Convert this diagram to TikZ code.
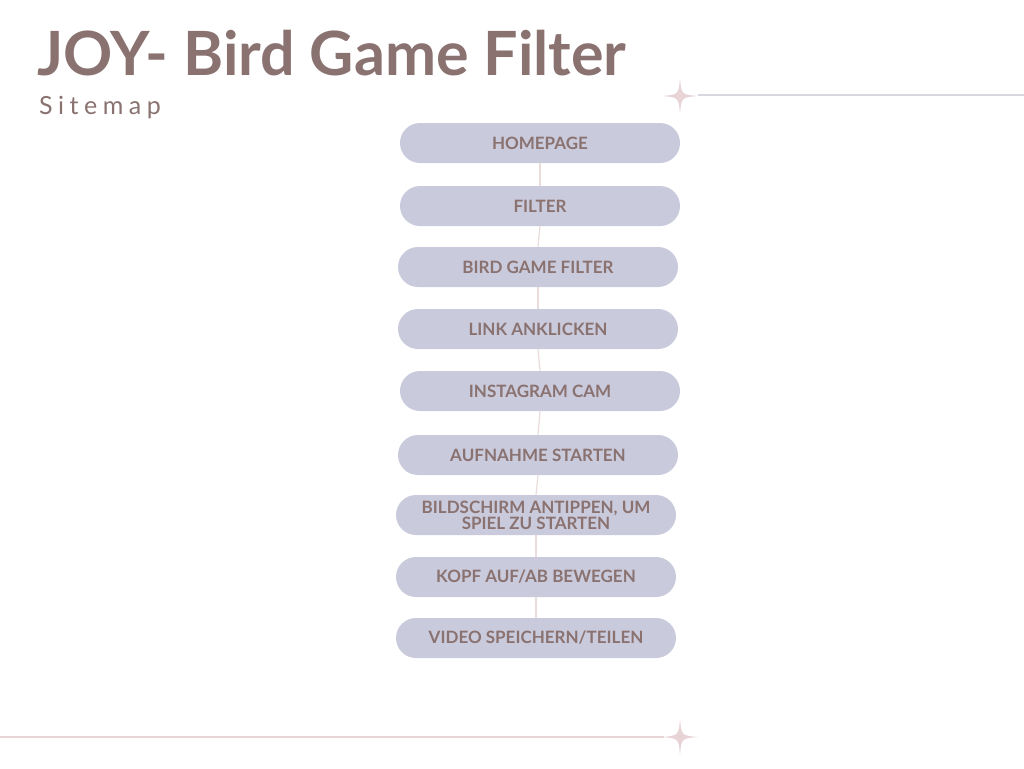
\documentclass[tikz,border=0pt]{standalone}
\usepackage{fontspec}
\setmainfont{Lato}
\newfontfamily\sitefont[LetterSpace=22]{Lato}
\definecolor{txtc}{HTML}{8A7270}
\definecolor{boxc}{HTML}{C9CADC}
\definecolor{linkc}{HTML}{EBDCDC}
\definecolor{starc}{HTML}{E8D4D6}
\definecolor{topline}{HTML}{DAD6E0}
\tikzset{
  stepbox/.style={draw=none, fill=boxc, rounded corners=20pt, minimum width=280pt, minimum height=40pt,
    inner sep=0pt, align=center, text=txtc, font=\fontsize{17}{16}\selectfont\bfseries},
  link/.style={draw=linkc, line width=1.2pt},
  sparkle/.style={fill=starc, draw=none}
}
\newcommand{\sparklestar}[3]{%
  \fill[sparkle] (#1,#2-#3) .. controls (#1+0.08*#3,#2-0.08*#3) .. (#1+#3,#2)
    .. controls (#1+0.08*#3,#2+0.08*#3) .. (#1,#2+#3)
    .. controls (#1-0.08*#3,#2+0.08*#3) .. (#1-#3,#2)
    .. controls (#1-0.08*#3,#2-0.08*#3) .. (#1,#2-#3) -- cycle;}
\begin{document}
\begin{tikzpicture}[x=1pt,y=-1pt]
\useasboundingbox[fill=white] (0,0) rectangle (1024,768);
% title
\node[anchor=base west, inner sep=0pt, text=txtc, font=\fontsize{61}{61}\selectfont\bfseries] (title) at (37,75) {JOY- Bird Game Filter};
\node[anchor=base west, inner sep=0pt, text=txtc, font=\fontsize{25}{25}\sitefont] (sub) at (39,114) {Sitemap};
% decorative lines and stars
\coordinate (tl1) at (698,95);
\coordinate (tl2) at (1024,95);
\draw[draw=topline, line width=1.2pt] (tl1) -- (tl2);
\sparklestar{680}{96}{18}
\coordinate (bl1) at (0,737);
\coordinate (bl2) at (664,737);
\draw[draw=starc, line width=1.2pt] (bl1) -- (bl2);
\sparklestar{680}{737}{18}
% boxes
\node[stepbox] (n1) at (540,143) {HOMEPAGE};
\node[stepbox] (n2) at (540,206) {FILTER};
\node[stepbox] (n3) at (538,267) {BIRD GAME FILTER};
\node[stepbox] (n4) at (538,329) {LINK ANKLICKEN};
\node[stepbox] (n5) at (540,391) {INSTAGRAM CAM};
\node[stepbox] (n6) at (538,455) {AUFNAHME STARTEN};
\node[stepbox] (n7) at (536,515) {BILDSCHIRM ANTIPPEN, UM\\SPIEL ZU STARTEN};
\node[stepbox] (n8) at (536,577) {KOPF AUF/AB BEWEGEN};
\node[stepbox] (n9) at (536,638) {VIDEO SPEICHERN/TEILEN};
% connectors
\draw[link] (n1.south) -- (n2.north);
\draw[link] (n2.south) -- (n3.north);
\draw[link] (n3.south) -- (n4.north);
\draw[link] (n4.south) -- (n5.north);
\draw[link] (n5.south) -- (n6.north);
\draw[link] (n6.south) -- (n7.north);
\draw[link] (n7.south) -- (n8.north);
\draw[link] (n8.south) -- (n9.north);
\end{tikzpicture}
\end{document}
